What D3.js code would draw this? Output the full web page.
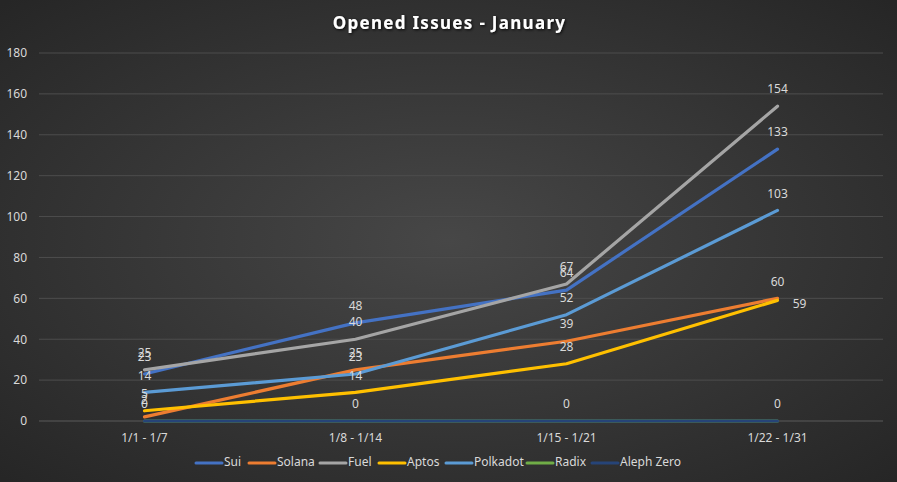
<!DOCTYPE html>
<html>
<head>
<meta charset="utf-8">
<script src="https://cdn.jsdelivr.net/npm/d3@7"></script>
<style>
  html, body { margin: 0; padding: 0; background: #2b2b2b; }
  #chart { width: 897px; height: 482px; }
</style>
</head>
<body>
<div id="chart"></div>
<script>
// Opened Issues - January: weekly counts per chain, Excel-style dark line chart

const WEEKS   = ["1/1 - 1/7", "1/8 - 1/14", "1/15 - 1/21", "1/22 - 1/31"];
const Y_TICKS = [0, 20, 40, 60, 80, 100, 120, 140, 160, 180];

const sui       = [23, 48, 64, 133];
const solana    = [2, 25, 39, 60];
const fuel      = [25, 40, 67, 154];
const aptos     = [5, 14, 28, 59];
const polkadot  = [14, 23, 52, 103];
const radix     = [0, 0, 0, 0];
const alephZero = [0, 0, 0, 0];

const SERIES = [
  { name: "Sui",        values: sui,       color: "#4472c4" },
  { name: "Solana",     values: solana,    color: "#ed7d31" },
  { name: "Fuel",       values: fuel,      color: "#a5a5a5" },
  { name: "Aptos",      values: aptos,     color: "#ffc000", lastRight: true },
  { name: "Polkadot",   values: polkadot,  color: "#5b9bd5" },
  { name: "Radix",      values: radix,     color: "#70ad47" },
  { name: "Aleph Zero", values: alephZero, color: "#264478" },
];

const W = 897, H = 482;
const m = { top: 53, right: 14, bottom: 61, left: 39 };
const iw = W - m.left - m.right;
const ih = H - m.top - m.bottom;
const FONT = "'Noto Sans', 'Open Sans', sans-serif";
const TEXT = "#d9d9d9";

const svg = d3.select("#chart").append("svg")
  .attr("width", W).attr("height", H);

// Background radial gradient
const defs = svg.append("defs");
const grad = defs.append("radialGradient")
  .attr("id", "bg").attr("cx", "50%").attr("cy", "50%").attr("r", "70%");
grad.append("stop").attr("offset", "0%").attr("stop-color", "#474747");
grad.append("stop").attr("offset", "100%").attr("stop-color", "#262626");
svg.append("rect").attr("width", W).attr("height", H).attr("fill", "url(#bg)");

const glow = defs.append("filter").attr("id", "glow")
  .attr("x", "-10%").attr("y", "-50%").attr("width", "120%").attr("height", "200%");
glow.append("feGaussianBlur").attr("in", "SourceAlpha").attr("stdDeviation", 1.5).attr("result", "b");
glow.append("feOffset").attr("in", "b").attr("dx", 1).attr("dy", 1).attr("result", "o");
glow.append("feComponentTransfer").attr("in", "o").attr("result", "s")
  .append("feFuncA").attr("type", "linear").attr("slope", 0.9);
const merge = glow.append("feMerge");
merge.append("feMergeNode").attr("in", "s");
merge.append("feMergeNode").attr("in", "SourceGraphic");

// Title
svg.append("text")
  .attr("x", W / 2 + 1).attr("y", 29)
  .attr("text-anchor", "middle")
  .attr("fill", "#ffffff")
  .attr("font-family", FONT)
  .attr("font-size", "17px")
  .attr("font-weight", "700")
  .attr("letter-spacing", "1.3px")
  .attr("filter", "url(#glow)")
  .text("Opened Issues - January");

const x = d3.scaleBand().domain(WEEKS).range([0, iw]);
const y = d3.scaleLinear().domain([0, 180]).range([ih, 0]);
const cx = w => x(w) + x.bandwidth() / 2;

const g = svg.append("g").attr("transform", `translate(${m.left},${m.top})`);

// Grid
Y_TICKS.forEach(t => {
  g.append("line")
    .attr("x1", 0).attr("x2", iw)
    .attr("y1", y(t)).attr("y2", y(t))
    .attr("stroke", t === 0 ? "#5a5a5a" : "#4d4d4d")
    .attr("stroke-width", 1);
});

// Y axis labels
const yAxisG = g.append("g")
  .call(d3.axisLeft(y).tickValues(Y_TICKS).tickSize(0).tickPadding(12));
yAxisG.select(".domain").remove();
yAxisG.selectAll("text")
  .attr("fill", TEXT)
  .attr("font-size", "12px")
  .attr("font-family", FONT);

// X axis labels
const xAxisG = g.append("g")
  .attr("transform", `translate(0,${ih})`)
  .call(d3.axisBottom(x).tickSize(0).tickPadding(12));
xAxisG.select(".domain").remove();
xAxisG.selectAll("text")
  .attr("fill", TEXT)
  .attr("font-size", "12px")
  .attr("font-family", FONT);

// Lines
const lineFn = d3.line()
  .x((d, i) => cx(WEEKS[i]))
  .y(d => y(d));

SERIES.forEach(s => {
  g.append("path")
    .datum(s.values)
    .attr("d", lineFn)
    .attr("fill", "none")
    .attr("stroke", s.color)
    .attr("stroke-width", 3.2)
    .attr("stroke-linejoin", "round")
    .attr("stroke-linecap", "round");
});

// Data labels (identical labels at the same spot are drawn once)
const placed = new Set();
SERIES.forEach(s => {
  s.values.forEach((v, i) => {
    const right = s.lastRight && i === s.values.length - 1;
    const lx = cx(WEEKS[i]) + (right ? 22 : 0);
    const ly = y(v) + (right ? 4 : -16);
    const key = `${lx}|${ly}|${v}`;
    if (placed.has(key)) return;
    placed.add(key);
    g.append("text")
      .attr("x", lx)
      .attr("y", ly)
      .attr("text-anchor", "middle")
      .attr("dominant-baseline", "middle")
      .attr("fill", TEXT)
      .attr("font-size", "12px")
      .attr("font-family", FONT)
      .text(v);
  });
});

// Legend
const LEGEND_X = [196, 249, 320, 379, 446, 527, 592];
const legendG = svg.append("g").attr("transform", `translate(0, ${H - 19})`);
SERIES.forEach((s, i) => {
  const lx = LEGEND_X[i];
  legendG.append("line")
    .attr("x1", lx).attr("x2", lx + 26)
    .attr("y1", 0).attr("y2", 0)
    .attr("stroke", s.color)
    .attr("stroke-width", 3)
    .attr("stroke-linecap", "round");
  legendG.append("text")
    .attr("x", lx + 28)
    .attr("y", 0)
    .attr("dominant-baseline", "middle")
    .attr("fill", TEXT)
    .attr("font-size", "12px")
    .attr("font-family", FONT)
    .text(s.name);
});
</script>
</body>
</html>
